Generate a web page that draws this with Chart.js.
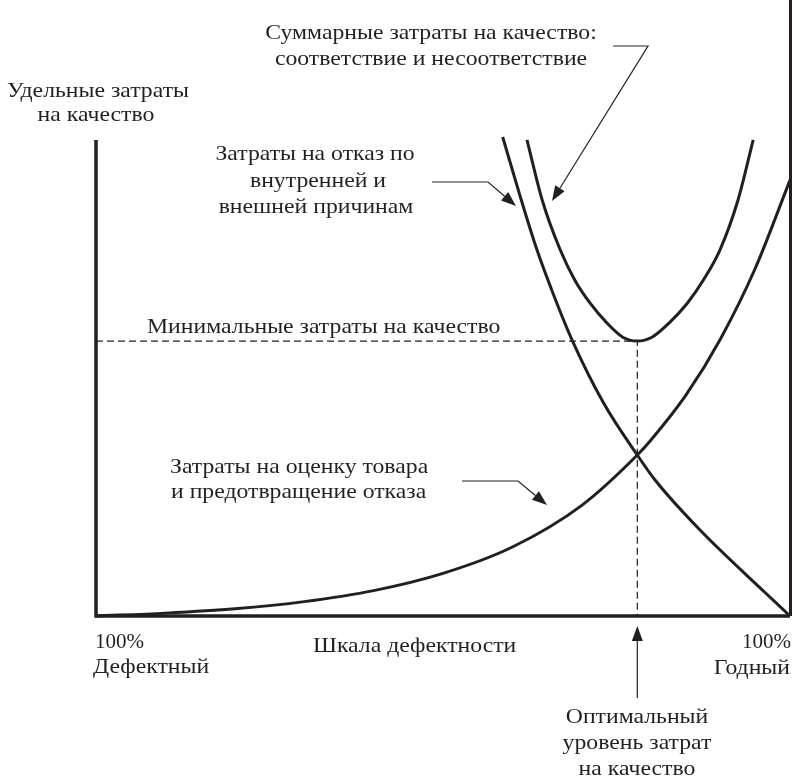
<!DOCTYPE html>
<html>
<head>
<meta charset="utf-8">
<script src="https://cdn.jsdelivr.net/npm/chart.js@4.4.1/dist/chart.umd.min.js"></script>
<style>
  html, body { margin: 0; padding: 0; background: #fff; }
  #wrap { width: 792px; height: 779px; }
</style>
</head>
<body>
<div id="wrap"><canvas id="c" width="792" height="779"></canvas></div>
<script>
// Defect scale: 0 = 100% defective, 100 = 100% good. Cost in relative units.
const appraisalX = [0, 10, 20, 30, 40, 50, 60, 70, 78, 80, 85, 90, 95, 100];
const appraisalY = [0, 0.6, 1.5, 3.0, 5.3, 8.9, 14.4, 23.1, 33.6, 36.8, 46.1, 57.9, 72.6, 91.0];

const failureX = [58.6, 61.1, 63.5, 66.0, 68.6, 73.2, 78.0, 80.5, 87.0, 96.4, 100];
const failureY = [100, 87.7, 76.6, 66.8, 57.6, 44.3, 33.6, 28.5, 18.0, 4.9, 0];

const totalX = [62.1, 64.3, 66.9, 69.0, 71.2, 73.6, 75.9, 78.0, 80.1, 82.6, 85.2, 87.5, 89.9, 92.5, 94.7];
const totalY = [99.4, 86.8, 76.4, 70.1, 65.3, 61.2, 58.2, 57.4, 58.2, 61.2, 65.3, 70.1, 76.4, 86.8, 99.4];

const ink = '#231f20';
const FONT = '21px "Liberation Serif", "Times New Roman", serif';
const STRETCH = 1.13;

const toPoints = (xs, ys) => xs.map((x, i) => ({ x, y: ys[i] }));

// optimum = lowest point of the total cost curve
let iMin = 0;
totalY.forEach((v, i) => { if (v < totalY[iMin]) iMin = i; });
const optX = totalX[iMin], optY = totalY[iMin];
const guide = [{ x: 0, y: optY }, { x: optX, y: optY }, { x: optX, y: 0 }];

const curve = (data) => ({
  data, showLine: true, pointRadius: 0, borderWidth: 3, borderColor: ink,
  cubicInterpolationMode: 'monotone', clip: false, fill: false
});

function arrow(ctx, pts) {
  ctx.save();
  ctx.strokeStyle = ink; ctx.fillStyle = ink; ctx.lineWidth = 1.2;
  const n = pts.length;
  const [tx, ty] = pts[n - 1], [px, py] = pts[n - 2];
  const ang = Math.atan2(ty - py, tx - px);
  const L = 15, W = 5.5;
  const bx = tx - L * Math.cos(ang), by = ty - L * Math.sin(ang);
  ctx.beginPath();
  ctx.moveTo(pts[0][0], pts[0][1]);
  for (let i = 1; i < n - 1; i++) ctx.lineTo(pts[i][0], pts[i][1]);
  ctx.lineTo(bx, by);
  ctx.stroke();
  ctx.beginPath();
  ctx.moveTo(tx, ty);
  ctx.lineTo(bx + W * Math.sin(ang), by - W * Math.cos(ang));
  ctx.lineTo(bx - W * Math.sin(ang), by + W * Math.cos(ang));
  ctx.closePath();
  ctx.fill();
  ctx.restore();
}

const decor = {
  id: 'decor',
  afterDraw(chart) {
    const { ctx, chartArea: a, scales: { x } } = chart;
    ctx.save();
    ctx.strokeStyle = ink;
    ctx.lineCap = 'butt';
    // axes
    ctx.lineWidth = 3.5;
    ctx.beginPath();
    ctx.moveTo(a.left, a.top + 3);
    ctx.lineTo(a.left, a.bottom);
    ctx.lineTo(a.right, a.bottom);
    ctx.stroke();
    // right frame edge
    ctx.lineWidth = 3;
    ctx.beginPath();
    ctx.moveTo(x.getPixelForValue(100) + 0.5, 0);
    ctx.lineTo(x.getPixelForValue(100) + 0.5, a.bottom);
    ctx.stroke();

    // labels
    ctx.fillStyle = ink;
    ctx.font = FONT;
    ctx.textBaseline = 'alphabetic';
    const t = (s, px, py, al, sx) => {
      ctx.save();
      ctx.translate(px, py);
      ctx.scale(sx || STRETCH, 1);
      ctx.textAlign = al || 'center';
      ctx.fillText(s, 0, 0);
      ctx.restore();
    };
    t('Суммарные затраты на качество:', 431, 39);
    t('соответствие и несоответствие', 431, 65);
    t('Удельные затраты', 98, 97);
    t('на качество', 96, 121);
    t('Затраты на отказ по', 315, 160);
    t('внутренней и', 318, 187);
    t('внешней причинам', 316, 213);
    t('Минимальные затраты на качество', 147, 333, 'left');
    t('Затраты на оценку товара', 170, 473, 'left');
    t('и предотвращение отказа', 171, 498, 'left');
    t('100%', 95, 648, 'left', 1);
    t('Дефектный', 93, 673, 'left');
    t('Шкала дефектности', 313, 652, 'left');
    t('100%', 791, 648, 'right', 1);
    t('Годный', 790, 674, 'right');
    t('Оптимальный', 637, 723);
    t('уровень затрат', 637, 749);
    t('на качество', 637, 775);
    ctx.restore();

    // callout arrows
    arrow(ctx, [[613, 46], [648, 46], [552, 201]]);
    arrow(ctx, [[432, 182], [488, 182], [516, 206]]);
    arrow(ctx, [[462, 481], [518, 481], [547, 505]]);
    const ox = x.getPixelForValue(optX);
    arrow(ctx, [[ox, 698], [ox, 626]]);
  }
};

new Chart(document.getElementById('c'), {
  type: 'scatter',
  data: {
    datasets: [
      { data: guide, showLine: true, pointRadius: 0, borderWidth: 1.2, borderColor: ink,
        borderDash: [7, 4], tension: 0, clip: false, fill: false },
      curve(toPoints(appraisalX, appraisalY)),
      curve(toPoints(failureX, failureY)),
      curve(toPoints(totalX, totalY))
    ]
  },
  options: {
    responsive: false,
    animation: false,
    layout: { padding: { left: 96, right: 2, top: 137, bottom: 163 } },
    scales: {
      x: { type: 'linear', min: 0, max: 100, display: false },
      y: { type: 'linear', min: 0, max: 100, display: false }
    },
    plugins: { legend: { display: false }, tooltip: { enabled: false } }
  },
  plugins: [decor]
});
</script>
</body>
</html>
